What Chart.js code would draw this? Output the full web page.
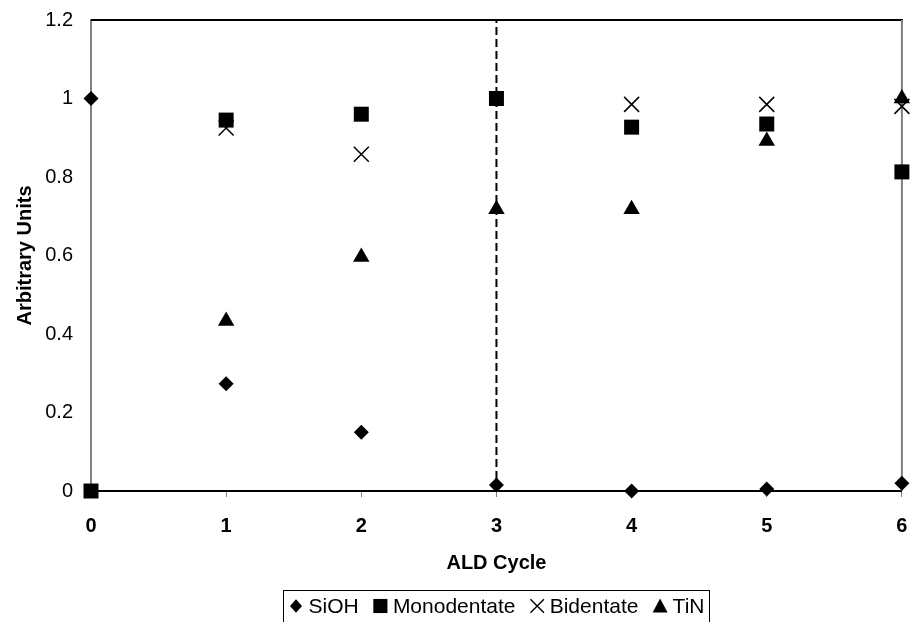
<!DOCTYPE html>
<html>
<head>
<meta charset="utf-8">
<title>ALD Cycle</title>
<script src="https://cdn.jsdelivr.net/npm/chart.js@4/dist/chart.umd.min.js"></script>
<style>
  html, body { margin: 0; padding: 0; background: #fff; }
  #wrap { width: 914px; height: 622px; }
</style>
</head>
<body>
<div id="wrap"><canvas id="chart" width="914" height="622"></canvas></div>
<script>
// ALD cycle number on the x axis
const cycles = [0, 1, 2, 3, 4, 5, 6];

// Normalised signal per cycle (null = no point)
const siohValues        = [1.0, 0.273, 0.150, 0.015, 0.0, 0.005, 0.020];
const monodentateValues = [0.0, 0.945, 0.960, 1.000, 0.927, 0.935, 0.813];
const bidentateValues   = [null, 0.925, 0.858, null, 0.985, 0.985, 0.980];
const tinValues         = [null, 0.433, 0.596, 0.718, 0.718, 0.892, 1.000];

const seriesNames = ['SiOH', 'Monodentate', 'Bidentate', 'TiN'];

const xTickLabels = ['0', '1', '2', '3', '4', '5', '6'];
const yTickLabels = ['0', '0.2', '0.4', '0.6', '0.8', '1', '1.2'];

// Cycle where the dashed divider sits, and the axis range
const dividerCycle = 3;
const yMin = 0, yMax = 1.2;

const FONT = '"Liberation Sans", Arial, Helvetica, sans-serif';
Chart.defaults.font.family = FONT;
Chart.defaults.color = '#000';

function toPoints(values) {
  return cycles
    .map((x, i) => ({ x: x, y: values[i] }))
    .filter(p => p.y !== null);
}

// Draws one legend marker
function drawMarker(ctx, style, cx, cy, s) {
  ctx.save();
  ctx.fillStyle = '#000';
  ctx.strokeStyle = '#000';
  ctx.beginPath();
  if (style === 'rectRot') {
    const w = s * 0.4, h = s * 0.45;
    ctx.moveTo(cx, cy - h); ctx.lineTo(cx + w, cy); ctx.lineTo(cx, cy + h); ctx.lineTo(cx - w, cy);
    ctx.closePath(); ctx.fill();
  } else if (style === 'rect') {
    const h = s * 0.47;
    ctx.rect(cx - h, cy - h, 2 * h, 2 * h); ctx.fill();
  } else if (style === 'crossRot') {
    const h = s * 0.45;
    ctx.lineWidth = 1.4;
    ctx.moveTo(cx - h, cy - h); ctx.lineTo(cx + h, cy + h);
    ctx.moveTo(cx + h, cy - h); ctx.lineTo(cx - h, cy + h);
    ctx.stroke();
  } else if (style === 'triangle') {
    const h = s * 0.5;
    ctx.moveTo(cx, cy - h); ctx.lineTo(cx + h, cy + h * 0.85); ctx.lineTo(cx - h, cy + h * 0.85);
    ctx.closePath(); ctx.fill();
  }
  ctx.restore();
}

// Boxed legend centred under the plot area
const boxedLegend = {
  id: 'boxedLegend',
  afterDraw(chart) {
    const ctx = chart.ctx;
    const area = chart.chartArea;
    const items = chart.data.datasets.filter(d => d.inLegend);
    ctx.save();
    ctx.font = '21px ' + FONT;
    const sym = 15, symGap = 5, pad = 5, boxW = 426;
    const widths = items.map(d => sym + symGap + ctx.measureText(d.label).width);
    const used = widths.reduce((a, b) => a + b, 0);
    const itemGap = (boxW - 2 * pad - used) / (items.length - 1);
    const left = Math.round((area.left + area.right) / 2 - boxW / 2) + 0.5;
    const top = 590.5, midY = 606;
    ctx.strokeStyle = '#000';
    ctx.lineWidth = 1;
    ctx.strokeRect(left, top, boxW, 40);
    let x = left + pad;
    items.forEach((d, i) => {
      drawMarker(ctx, d.pointStyle, x + sym / 2, midY, sym);
      ctx.fillStyle = '#000';
      ctx.textAlign = 'left';
      ctx.textBaseline = 'middle';
      ctx.fillText(d.label, x + sym + symGap, midY + 1);
      x += widths[i] + itemGap;
    });
    ctx.restore();
  }
};

// Top and right frame lines of the plot area
const plotFrame = {
  id: 'plotFrame',
  beforeDatasetsDraw(chart) {
    const { ctx, chartArea: a } = chart;
    ctx.save();
    ctx.lineWidth = 2;
    ctx.strokeStyle = '#000';
    ctx.beginPath();
    ctx.moveTo(a.left, a.top); ctx.lineTo(a.right + 1, a.top);
    ctx.stroke();
    ctx.strokeStyle = '#808080';
    ctx.beginPath();
    ctx.moveTo(a.right, a.top); ctx.lineTo(a.right, a.bottom);
    ctx.stroke();
    ctx.restore();
  }
};

const markerBase = {
  backgroundColor: '#000',
  borderColor: '#000',
  showLine: false,
  clip: false,
  inLegend: true
};

new Chart(document.getElementById('chart'), {
  type: 'scatter',
  data: {
    datasets: [
      Object.assign({}, markerBase, {
        label: seriesNames[0], data: toPoints(siohValues),
        pointStyle: 'rectRot', pointRadius: 7.5, borderWidth: 0
      }),
      Object.assign({}, markerBase, {
        label: seriesNames[1], data: toPoints(monodentateValues),
        pointStyle: 'rect', pointRadius: 10.6, borderWidth: 0
      }),
      Object.assign({}, markerBase, {
        label: seriesNames[2], data: toPoints(bidentateValues),
        pointStyle: 'crossRot', pointRadius: 10.6, borderWidth: 1.5
      }),
      Object.assign({}, markerBase, {
        label: seriesNames[3], data: toPoints(tinValues),
        pointStyle: 'triangle', pointRadius: 9.5, borderWidth: 0
      }),
      {
        type: 'line',
        label: 'divider',
        inLegend: false,
        data: [{ x: dividerCycle, y: yMin }, { x: dividerCycle, y: yMax }],
        borderColor: '#000',
        borderWidth: 2,
        borderDash: [8, 4],
        pointRadius: 0,
        fill: false,
        order: 10
      }
    ]
  },
  options: {
    responsive: false,
    animation: false,
    events: [],
    layout: { padding: { left: 0, right: 8, top: 20, bottom: 41 } },
    plugins: {
      legend: { display: false },
      tooltip: { enabled: false }
    },
    scales: {
      x: {
        type: 'linear',
        min: 0, max: 6,
        afterFit(scale) {
          scale.height = 90;
          scale.paddingLeft = 0;
          scale.paddingRight = 0;
        },
        ticks: {
          stepSize: 1,
          padding: 17,
          maxRotation: 0,
          font: { size: 20, weight: 'bold' },
          callback: (v, i) => xTickLabels[i]
        },
        grid: {
          display: true,
          drawOnChartArea: false,
          drawTicks: true,
          tickLength: 6,
          color: '#808080',
          lineWidth: 1
        },
        border: { display: true, color: '#000', width: 2 },
        title: {
          display: true,
          text: 'ALD Cycle',
          font: { size: 20, weight: 'bold' },
          padding: { top: 0, bottom: 6 }
        }
      },
      y: {
        type: 'linear',
        min: yMin, max: yMax,
        afterFit(scale) {
          scale.width = 91;
          scale.paddingTop = 0;
          scale.paddingBottom = 0;
        },
        ticks: {
          stepSize: 0.2,
          padding: 18,
          font: { size: 20 },
          callback: (v, i) => yTickLabels[i]
        },
        grid: { display: false, drawTicks: false },
        border: { display: true, color: '#808080', width: 2 },
        title: {
          display: true,
          text: 'Arbitrary Units',
          font: { size: 20, weight: 'bold' },
          padding: { top: 13, bottom: 0 }
        }
      }
    }
  },
  plugins: [plotFrame, boxedLegend]
});
</script>
</body>
</html>
